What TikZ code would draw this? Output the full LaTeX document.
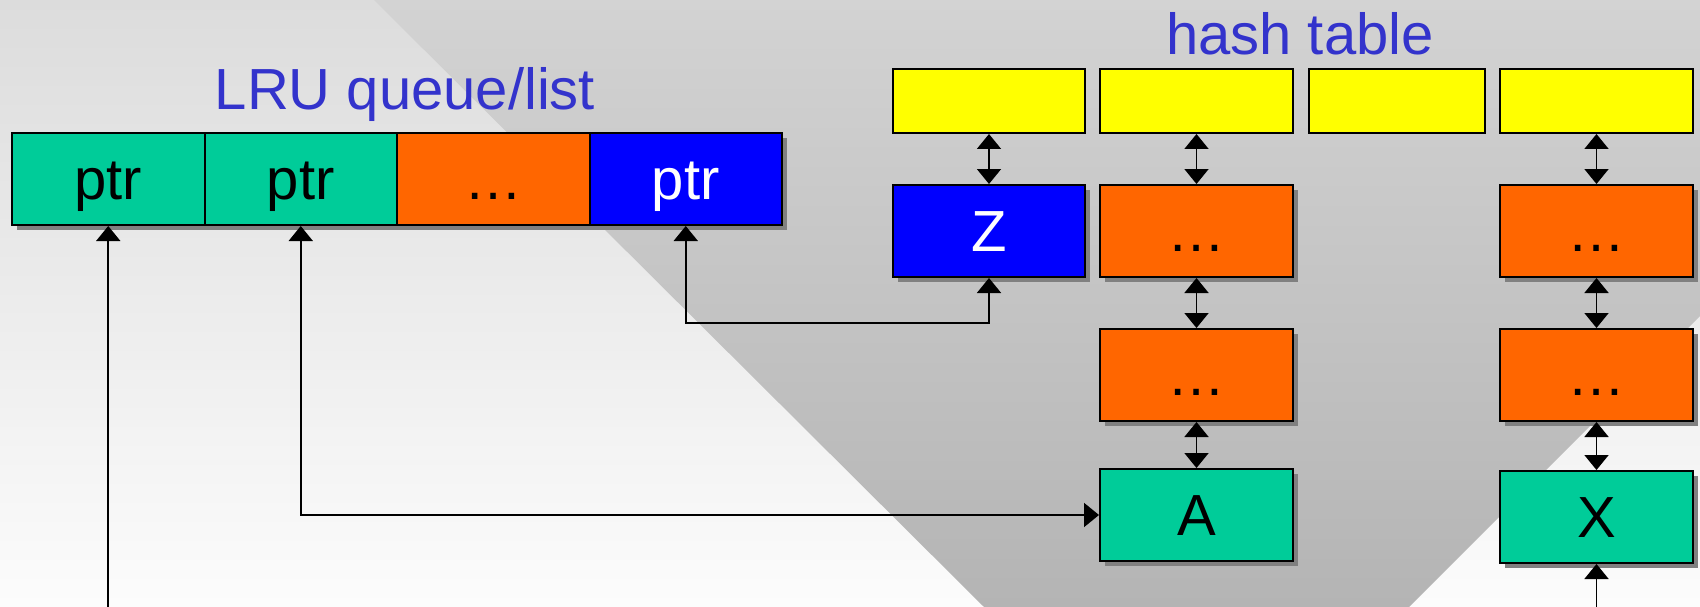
\documentclass[tikz,border=0pt]{standalone}
\usepackage{fontspec}
\setmainfont{Liberation Sans}
\usetikzlibrary{arrows.meta,shadows}
\definecolor{bgtop}{HTML}{DCDCDC}
\definecolor{bgbot}{HTML}{FCFCFC}
\definecolor{dktop}{HTML}{D3D3D3}
\definecolor{dkbot}{HTML}{B4B4B4}
\definecolor{cgreen}{HTML}{00CC99}
\definecolor{corange}{HTML}{FF6600}
\definecolor{cblue}{HTML}{0000FF}
\definecolor{cyellow}{HTML}{FFFF00}
\definecolor{ctitle}{HTML}{3333CC}
\definecolor{shadowgray}{HTML}{808080}
\begin{document}
\begin{tikzpicture}[x=1pt,y=-1pt,
  txt/.style={inner sep=0pt, font=\fontsize{58}{60}\selectfont, text height=41.5pt, text depth=0pt},
  title/.style={txt, text=ctitle},
  box/.style={txt, draw=black, line width=2pt, anchor=north west, minimum height=92pt, minimum width=193pt},
  shad/.style={drop shadow={shadow xshift=5pt, shadow yshift=-5pt, fill=shadowgray, opacity=1}},
  cell/.style={box, shad, minimum width=192.5pt},
  ybox/.style={box, fill=cyellow, minimum height=64pt},
  green/.style={box, shad, fill=cgreen},
  orange/.style={box, shad, fill=corange},
  blue/.style={box, shad, fill=cblue, text=white},
  conn/.style={line width=1.8pt, -{Triangle[width=24pt,length=15pt]}},
  biconn/.style={line width=1.8pt, {Triangle[width=24pt,length=15pt]}-{Triangle[width=24pt,length=15pt]}}
]
\useasboundingbox (0,0) rectangle (1700,607);
% background
\shade[top color=bgtop, bottom color=bgbot] (0,0) rectangle (1700,607);
\shade[top color=dktop, bottom color=dkbot] (374,0) -- (1700,0) -- (1700,316) -- (1409,607) -- (984,607) -- cycle;

% titles
\node[title] (lru) at (405,88.5) {LRU queue/list};
\node[title] (ht) at (1300,34) {hash table};

% LRU queue
\node[cell, fill=cgreen] (ptr1) at (11,132) {ptr};
\node[cell, fill=cgreen] (ptr2) at (203.5,132) {ptr};
\node[cell, fill=corange] (ptr3) at (396,132) {…};
\node[cell, fill=cblue, text=white] (ptr4) at (588.5,132) {ptr};

% hash table buckets
\node[ybox, minimum width=192pt] (y1) at (892,68) {};
\node[ybox] (y2) at (1099,68) {};
\node[ybox, minimum width=176pt] (y3) at (1308,68) {};
\node[ybox] (y4) at (1499,68) {};

% chains
\node[blue, minimum width=192pt] (Z) at (892,184) {Z};
\node[orange] (c2a) at (1099,184) {…};
\node[orange] (c4a) at (1499,184) {…};
\node[orange] (c2b) at (1099,328) {…};
\node[orange] (c4b) at (1499,328) {…};
\node[green] (A) at (1099,468) {A};
\node[green] (X) at (1499,470) {X};

% connectors
\coordinate (bottom) at (0,612);
\coordinate (zturn) at (0,323);
\draw[biconn] (y1.south) -- (Z.north);
\draw[biconn] (y2.south) -- (c2a.north);
\draw[biconn] (y4.south) -- (c4a.north);
\draw[biconn] (c2a.south) -- (c2b.north);
\draw[biconn] (c4a.south) -- (c4b.north);
\draw[biconn] (c2b.south) -- (A.north);
\draw[biconn] (c4b.south) -- (X.north);
\draw[biconn] (ptr4.south) -- (ptr4.south |- zturn) -- (Z.south |- zturn) -- (Z.south);
\draw[biconn] (ptr2.south) |- (A.west);
\draw[conn] (ptr1.south |- bottom) -- (ptr1.south);
\draw[conn] (X.south |- bottom) -- (X.south);
\end{tikzpicture}
\end{document}
